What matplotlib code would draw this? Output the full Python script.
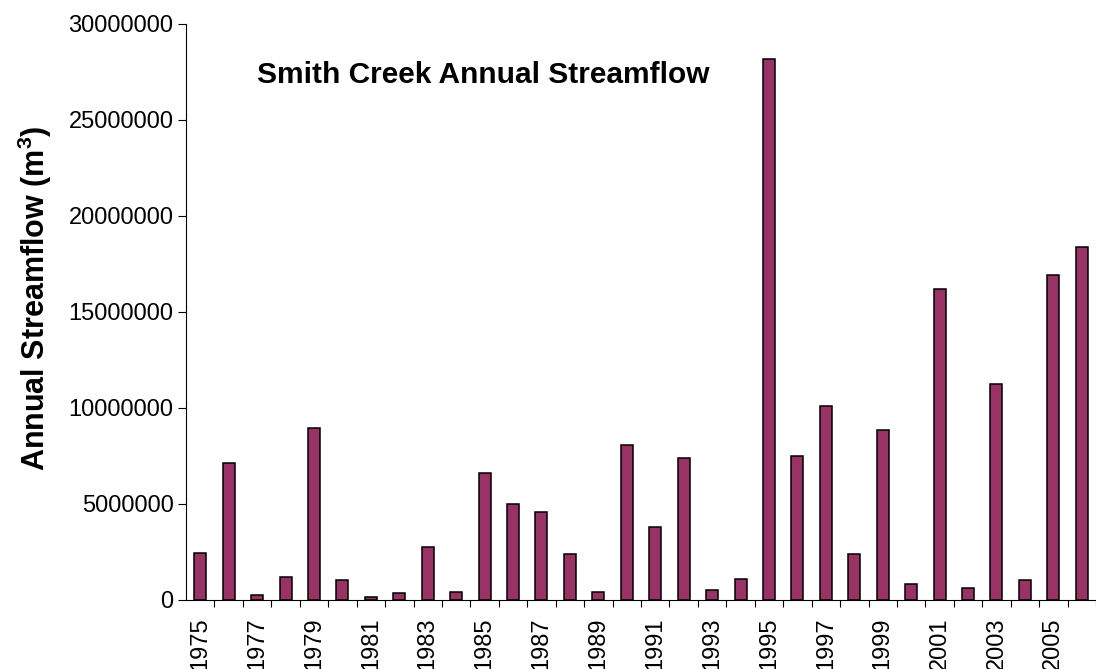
import matplotlib
matplotlib.use("Agg")
import matplotlib.pyplot as plt
import numpy as np

years = list(range(1975, 2007))
flow = [2.44e6, 7.09e6, 0.23e6, 1.19e6, 8.92e6, 1.00e6, 0.13e6, 0.32e6,
        2.75e6, 0.41e6, 6.60e6, 4.96e6, 4.57e6, 2.35e6, 0.41e6, 8.05e6,
        3.79e6, 7.37e6, 0.49e6, 1.08e6, 28.18e6, 7.47e6, 10.09e6, 2.35e6,
        8.83e6, 0.81e6, 16.2e6, 0.62e6, 11.24e6, 1.00e6, 16.89e6, 18.4e6]
yticks = [0, 5000000, 10000000, 15000000, 20000000, 25000000, 30000000]
title = "Smith Creek Annual Streamflow"
ylabel = "Annual Streamflow (m$^\\mathbf{3}$)"

plt.rcParams['font.family'] = ['Liberation Sans', 'DejaVu Sans']
plt.rcParams['mathtext.fontset'] = 'custom'
plt.rcParams['mathtext.bf'] = 'Liberation Sans:bold'
plt.rcParams['mathtext.rm'] = 'Liberation Sans'

W, H = 1096, 669
fig = plt.figure(figsize=(W / 100, H / 100), dpi=100)
left_px, right_px, bottom_px, top_px = 186, 1096, 599.5, 24
ax = fig.add_axes([left_px / W, 1 - bottom_px / H, (right_px - left_px) / W, (bottom_px - top_px) / H])

x = np.arange(len(years))
ax.bar(x, flow, width=0.42, color='#993366', edgecolor='black', linewidth=1.1, zorder=3)

cat_px = 28.6
ax.set_xlim(-0.5, -0.5 + (right_px - left_px) / cat_px)
ax.set_ylim(0, 30000000)

ax.set_yticks(yticks)
ax.set_yticklabels([str(v) for v in yticks], fontsize=17)
ax.tick_params(axis='y', direction='out', length=6, width=0.8, pad=3)

ax.set_xticks(x[::2])
ax.set_xticklabels([str(y) for y in years[::2]], rotation=90, fontsize=17)
ax.set_xticks(np.arange(len(years)) + 0.5, minor=True)
ax.tick_params(axis='x', which='major', length=0, pad=13)
ax.tick_params(axis='x', which='minor', direction='out', length=5, width=0.8)

for s in ['top', 'right']:
    ax.spines[s].set_visible(False)
for s in ['left', 'bottom']:
    ax.spines[s].set_linewidth(0.8)

ax.set_ylabel(ylabel, fontsize=22, fontweight='bold')
ax.yaxis.set_label_coords((54 - left_px) / (right_px - left_px), (bottom_px - 298) / (bottom_px - top_px))

fig.text(257 / W, 1 - 75 / H, title, fontsize=21.5, fontweight='bold', ha='left', va='center')

fig.savefig("out.png", dpi=100)
